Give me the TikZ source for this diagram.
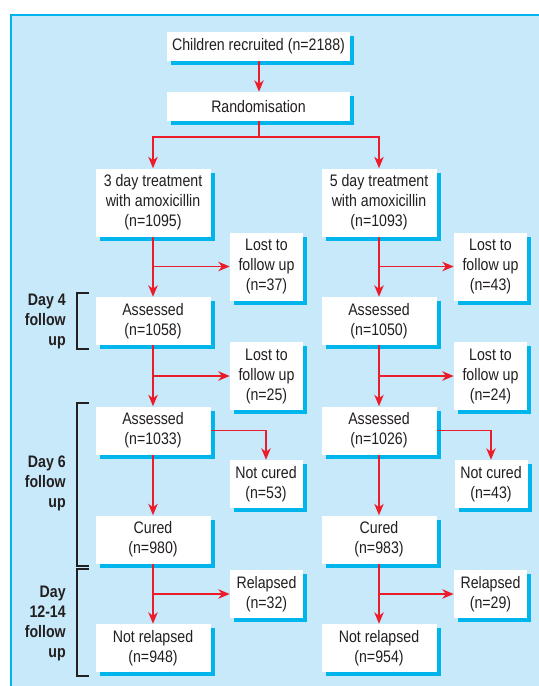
\documentclass[tikz,border=0pt]{standalone}
\usepackage{fontspec}
\setmainfont{Liberation Sans}[FakeStretch=0.85]
\usetikzlibrary{arrows.meta,shadows}
\definecolor{panelbg}{HTML}{C8E9F9}
\definecolor{cyanline}{HTML}{00B4EC}
\definecolor{arrred}{HTML}{EC1C2A}
\definecolor{txt}{HTML}{231F20}
\tikzset{
  box/.style={draw=none, fill=white, inner sep=0pt, align=center, text=txt,
    font=\fontsize{12.5}{15}\selectfont,
    general shadow={fill=cyanline, shadow xshift=3pt, shadow yshift=-3pt}},
  topbox/.style={box, minimum width=137.25pt, minimum height=21.75pt},
  mainbox/.style={box, minimum width=86.25pt},
  sidebox/.style={box, minimum width=54.75pt},
  hone/.style={minimum height=21.75pt},
  htwo/.style={minimum height=36pt},
  hthree/.style={minimum height=51pt},
  arr/.style={draw=arrred, line width=1.3pt, -{Stealth[length=8.5pt,width=7pt,inset=2.5pt]}},
  conn/.style={draw=arrred, line width=1.3pt},
  brack/.style={draw=txt, line width=0.8pt},
  daylabel/.style={anchor=east, align=right, text=txt, inner sep=0pt,
    font=\bfseries\fontsize{12.5}{15}\selectfont}
}
\begin{document}
\begin{tikzpicture}[x=0.75pt,y=-0.75pt]
\useasboundingbox (0,0) rectangle (539,686);
\fill[panelbg] (11,15) rectangle (539,686);
\draw[cyanline, line width=1.5pt] (11,686) -- (11,15) -- (539,15);

% top
\node[topbox] (c1) at (258.5,46.5) {Children recruited (n=2188)};
\node[topbox] (rnd) at (258.5,106.5) {Randomisation};

% left column
\node[mainbox,hthree] (t3) at (153,202.5) {3 day treatment\\with amoxicillin\\(n=1095)};
\node[sidebox,hthree] (l1) at (266.5,266.5) {Lost to\\follow up\\(n=37)};
\node[mainbox,htwo] (a1) at (153,321) {Assessed\\(n=1058)};
\node[sidebox,hthree] (l2) at (266.5,376) {Lost to\\follow up\\(n=25)};
\node[mainbox,htwo] (a2) at (153,430.5) {Assessed\\(n=1033)};
\node[sidebox,htwo] (nc) at (266,484) {Not cured\\(n=53)};
\node[mainbox,htwo] (cu) at (153,539.5) {Cured\\(n=980)};
\node[sidebox,htwo] (rl) at (266.5,594) {Relapsed\\(n=32)};
\node[mainbox,htwo] (nr) at (153,648) {Not relapsed\\(n=948)};

% right column
\node[mainbox,hthree] (t5) at (379,202.5) {5 day treatment\\with amoxicillin\\(n=1093)};
\node[sidebox,hthree] (l1r) at (490.5,266.5) {Lost to\\follow up\\(n=43)};
\node[mainbox,htwo] (a1r) at (379,321) {Assessed\\(n=1050)};
\node[sidebox,hthree] (l2r) at (490.5,376) {Lost to\\follow up\\(n=24)};
\node[mainbox,htwo] (a2r) at (379,430.5) {Assessed\\(n=1026)};
\node[sidebox,htwo] (ncr) at (491,484) {Not cured\\(n=43)};
\node[mainbox,htwo] (cur) at (379,539.5) {Cured\\(n=983)};
\node[sidebox,htwo] (rlr) at (490.5,594) {Relapsed\\(n=29)};
\node[mainbox,htwo] (nrr) at (379,648) {Not relapsed\\(n=954)};

% connectors
\coordinate (split) at (259,137);
\draw[arr] (c1.south -| split) -- (rnd.north -| split);
\draw[conn] (rnd.south -| split) -- (split);
\draw[arr] (split) -| (t3.north);
\draw[arr] (split) -| (t5.north);

\foreach \t/\a/\l/\b/\m/\n/\c/\r/\z in {t3/a1/l1/a2/l2/nc/cu/rl/nr, t5/a1r/l1r/a2r/l2r/ncr/cur/rlr/nrr}{
  \draw[arr] (\t) -- (\a);
  \draw[arr] (\t.south |- \l.west) -- (\l.west);
  \draw[arr] (\a) -- (\b);
  \draw[arr] (\a.south |- \m.west) -- (\m.west);
  \draw[arr] (\b.east) -| (\n.north);
  \draw[arr] (\b) -- (\c);
  \draw[arr] (\c) -- (\z);
  \draw[arr] (\c.south |- \r.west) -- (\r.west);
}

% brackets and labels
\draw[brack] (89,293) -- (77,293) -- (77,349) -- (89,349);
\draw[brack] (89,403) -- (77,403) -- (77,566) -- (89,566);
\draw[brack] (89,569) -- (77,569) -- (77,676) -- (89,676);
\node[daylabel] (d4) at (66,321) {Day 4\\follow\\up};
\node[daylabel] (d6) at (66,483) {Day 6\\follow\\up};
\node[daylabel] (d12) at (66,623) {Day\\12-14\\follow\\up};
\end{tikzpicture}
\end{document}
